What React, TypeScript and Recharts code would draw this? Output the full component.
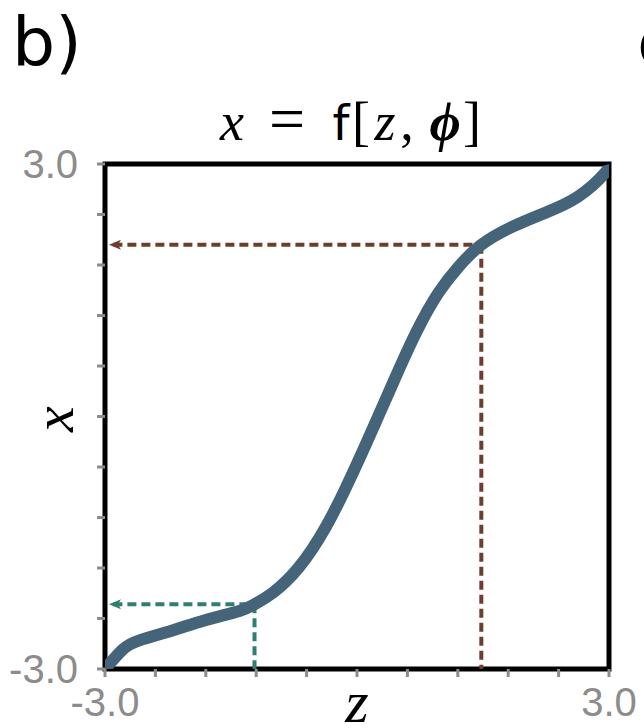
import React from 'react';
import {
  LineChart,
  Line,
  XAxis,
  YAxis,
  ReferenceLine,
  ReferenceArea,
  ReferenceDot,
} from 'recharts';

// curve x = f[z, phi]
const zValues = [-3, -2.79, -2.59, -2.19, -1.81, -1.4, -1.22, -1.01, -0.69, -0.37, -0.13, 0.06, 0.23, 0.42, 0.7, 0.97, 1.21, 1.48, 1.84, 2.24, 2.63, 2.95, 3];
const xValues = [-3, -2.77, -2.66, -2.54, -2.42, -2.31, -2.23, -2.1, -1.79, -1.31, -0.84, -0.43, -0.05, 0.38, 0.99, 1.47, 1.78, 2.04, 2.25, 2.42, 2.61, 2.89, 3];

// two projected points (z, x)
const brownPoint = { z: 1.48, x: 2.04 };
const greenPoint = { z: -1.22, x: -2.23 };

const tickValues = [-3, -2.4, -1.8, -1.2, -0.6, 0, 0.6, 1.2, 1.8, 2.4, 3];
const labeledTicks = [-3, 3];
const domain: [number, number] = [-3, 3];

// title glyphs and their centres
const titleGlyphs = ['x', '=', 'f', '[', 'z', ',', 'ϕ', ']'];
const titleCentres = [232, 287, 341, 361, 385, 407, 445, 472];

const curveData = zValues.map((z, i) => ({ z, x: xValues[i] }));

const CURVE = '#436479';
const BROWN = '#6e3d2c';
const GREEN = '#2f7f6f';
const GREY = '#8c8c8c';

const tickText = (anchor: 'middle' | 'end', dy: string) => (props: any) => {
  const { x, y, payload } = props;
  if (!labeledTicks.includes(payload.value)) return <g />;
  return (
    <text x={x} y={y} dy={dy} textAnchor={anchor} fill={GREY} fontSize={40} fontFamily="Liberation Sans">
      {payload.value.toFixed(1)}
    </text>
  );
};

const arrowLeft = (color: string) => (props: { cx?: number; cy?: number }) => {
  const { cx = 0, cy = 0 } = props;
  const tip = cx + 4;
  return <path d={`M${tip},${cy} L${tip + 12},${cy - 5} L${tip + 9},${cy} L${tip + 12},${cy + 5} Z`} fill={color} />;
};

const mathFont = 'Liberation Serif';

const glyphProps = (g: string) => {
  if (g === 'f') return { fontFamily: 'DejaVu Sans', fontStyle: 'normal', fontWeight: 400, fontSize: 48 };
  if (g === 'x' || g === 'z') return { fontFamily: mathFont, fontStyle: 'italic', fontWeight: 400, fontSize: 54 };
  if (g === 'ϕ') return { fontFamily: mathFont, fontStyle: 'italic', fontWeight: 700, fontSize: 54 };
  if (g === '=') return { fontFamily: mathFont, fontStyle: 'normal', fontWeight: 400, fontSize: 64 };
  return { fontFamily: mathFont, fontStyle: 'normal', fontWeight: 400, fontSize: 54 };
};

export default function App() {
  return (
    <div style={{ position: 'absolute', left: 0, top: 0, width: 644, height: 728, background: '#fff', overflow: 'hidden' }}>
      <div style={{ position: 'absolute', left: 12, top: 3, lineHeight: '80px', fontFamily: 'DejaVu Sans', fontSize: 68, color: '#000' }}>b)</div>
      <div style={{ position: 'absolute', left: 637, top: 3, lineHeight: '80px', fontFamily: 'DejaVu Sans', fontSize: 68, color: '#000' }}>c)</div>
      <LineChart
        width={644}
        height={728}
        data={curveData}
        margin={{ top: 164, right: 35, bottom: 19, left: 45 }}
        style={{ position: 'absolute', left: 0, top: 0 }}
      >
        <XAxis
          dataKey="z"
          type="number"
          domain={domain}
          ticks={tickValues}
          interval={0}
          allowDataOverflow
          height={40}
          axisLine={false}
          tickLine={{ stroke: GREY, strokeWidth: 3 }}
          tickSize={8}
          tickMargin={11}
          tick={tickText('middle', '0.71em')}
        />
        <YAxis
          dataKey="x"
          type="number"
          domain={domain}
          ticks={tickValues}
          interval={0}
          allowDataOverflow
          width={60}
          axisLine={false}
          tickLine={{ stroke: GREY, strokeWidth: 3 }}
          tickSize={8}
          tickMargin={19}
          tick={tickText('end', '0.355em')}
        />
        <ReferenceLine
          segment={[{ x: -2.9, y: brownPoint.x }, { x: brownPoint.z, y: brownPoint.x }]}
          stroke={BROWN}
          strokeWidth={4}
          strokeDasharray="9 5"
        />
        <ReferenceLine
          segment={[{ x: brownPoint.z, y: brownPoint.x }, { x: brownPoint.z, y: -3 }]}
          stroke={BROWN}
          strokeWidth={4}
          strokeDasharray="9 5"
        />
        <ReferenceLine
          segment={[{ x: -2.9, y: greenPoint.x }, { x: greenPoint.z, y: greenPoint.x }]}
          stroke={GREEN}
          strokeWidth={4}
          strokeDasharray="9 5"
        />
        <ReferenceLine
          segment={[{ x: greenPoint.z, y: greenPoint.x }, { x: greenPoint.z, y: -3 }]}
          stroke={GREEN}
          strokeWidth={4}
          strokeDasharray="9 5"
        />
        <ReferenceDot x={-3} y={brownPoint.x} shape={arrowLeft(BROWN)} />
        <ReferenceDot x={-3} y={greenPoint.x} shape={arrowLeft(GREEN)} />
        <Line
          dataKey="x"
          type="natural"
          stroke={CURVE}
          strokeWidth={12}
          dot={false}
          activeDot={false}
          isAnimationActive={false}
        />
        <ReferenceArea x1={-3} x2={3} y1={-3} y2={3} fill="none" fillOpacity={0} stroke="#000" strokeWidth={5} />
      </LineChart>
      <svg width={644} height={728} style={{ position: 'absolute', left: 0, top: 0, pointerEvents: 'none' }}>
        {titleGlyphs.map((g, i) => (
          <text key={i} x={titleCentres[i]} y={140} textAnchor="middle" fill="#000" {...glyphProps(g)}>
            {g}
          </text>
        ))}
        <text transform="translate(73,419) rotate(-90)" x={0} y={0} textAnchor="middle" fontFamily={mathFont} fontStyle="italic" fontSize={58} fill="#000">
          x
        </text>
        <text x={357} y={722} textAnchor="middle" fontFamily={mathFont} fontStyle="italic" fontSize={60} fill="#000">
          z
        </text>
      </svg>
    </div>
  );
}
